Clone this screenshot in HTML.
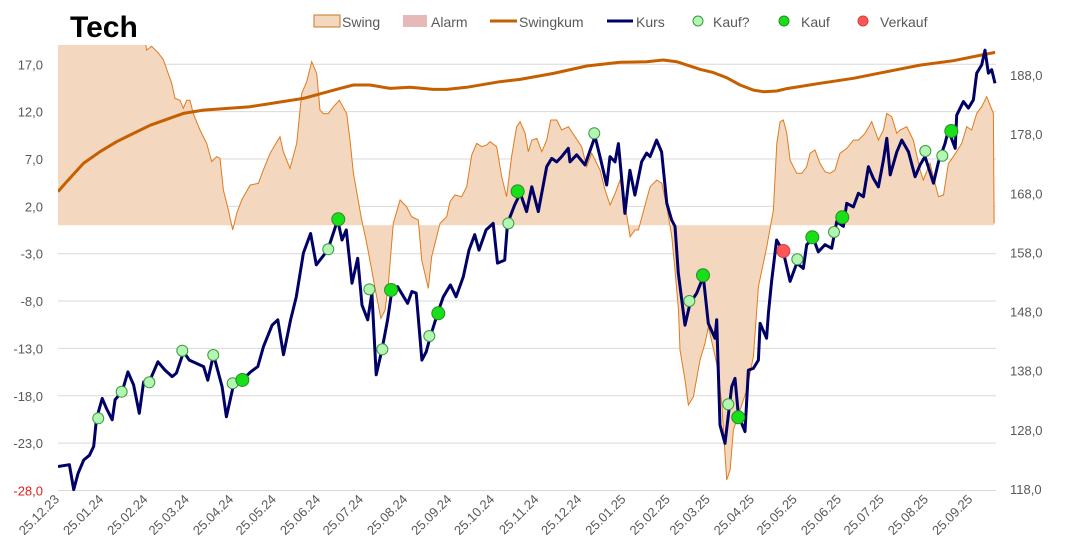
<!DOCTYPE html>
<html><head><meta charset="utf-8"><style>
body{margin:0;background:#fff;}
svg{display:block;font-family:"Liberation Sans",sans-serif;}
</style></head><body>
<svg id="chart" width="1067" height="557">
<text x="70" y="37" font-size="30" font-weight="bold" fill="#000">Tech</text>
<g id="legend" font-size="14" fill="#595959">
 <g><rect x="314" y="15" width="26" height="12" fill="#f3d7be" stroke="#c8782a" stroke-width="1"/><text x="342" y="27">Swing</text></g>
 <g><rect x="403" y="15" width="24" height="12" fill="#e6b8b7"/><text x="431" y="27">Alarm</text></g>
 <g><line x1="490" y1="21" x2="517" y2="21" stroke="#c65f00" stroke-width="3"/><text x="519" y="27">Swingkum</text></g>
 <g><line x1="607" y1="21" x2="633" y2="21" stroke="#000066" stroke-width="3"/><text x="636" y="27">Kurs</text></g>
 <g><circle cx="698" cy="21" r="5" fill="#b3f5b3" stroke="#3a9a3a"/><text x="713" y="27">Kauf?</text></g>
 <g><circle cx="784" cy="21" r="5" fill="#18e018" stroke="#2a8a2a"/><text x="801" y="27">Kauf</text></g>
 <g><circle cx="863" cy="21" r="5" fill="#f55" stroke="#c44"/><text x="880" y="27">Verkauf</text></g>
</g>
<defs><clipPath id="plotclip"><rect x="58" y="45" width="940" height="450"/></clipPath></defs>
<g id="grid"></g>
<g id="plot" clip-path="url(#plotclip)"></g>
<g id="axes"></g>
</svg>
<script>
const leftTicks=[17,12,7,2,-3,-8,-13,-18,-23,-28];
const rightTicks=[188,178,168,158,148,138,128,118];
const xLabels=['2023-12-25','2024-01-25','2024-02-25','2024-03-25','2024-04-25','2024-05-25','2024-06-25','2024-07-25','2024-08-25','2024-09-25','2024-10-25','2024-11-25','2024-12-25','2025-01-25','2025-02-25','2025-03-25','2025-04-25','2025-05-25','2025-06-25','2025-07-25','2025-08-25','2025-09-25'];
const kursDays=[0,8,11,14,18,22,25,27,31,34,38,40,45,49,53,57,60,64,70,75,80,83,88,92,102,105,109,115,118,123,129,135,140,144,150,154,158,163,167,172,177,181,189,196,199,202,206,210,213,217,220,223,227,231,234,238,245,248,251,255,258,261,266,270,275,279,284,288,292,295,300,305,308,313,315,320,324,328.4,332,336.6,342.5,346,349.5,353,357.6,358.8,363.5,369.3,376.3,379.8,384.5,386.8,390.3,392.7,397.3,400.8,404.3,409,412.5,414.9,419.5,423,426.6,430,432.4,434.7,439.4,442.9,447.6,452.2,455.7,460.4,461.6,463.9,467.4,472.1,474.4,476.8,481.4,483.8,487.3,490.8,492,496.6,497.8,500.1,503.6,508.3,513,517.7,522.3,524.7,529.3,532.8,537.5,542.2,545.7,550.4,552.7,557.4,560.9,564.4,567.9,571.4,574.9,578.4,580.8,583.2,587.8,591.3,596,600.6,604.1,607.6,613.5,617,621.6,624,628.7,629.8,634.5,638,641.5,643.8,647.3,649.6,652,654.3,656.6];
const kursValues=[121.8,122.1,117.9,120.6,122.9,123.7,125.2,129.9,133.3,131.6,129.7,133.1,134.5,137.8,135.6,130.8,136.1,136.1,139.5,138.1,137.0,137.6,141.2,139.8,138.7,136.4,140.7,135.3,130.2,135.6,136.4,137.8,138.7,142.1,145.7,146.6,140.7,146.6,150.5,157.9,161.2,155.9,158.4,163.5,160.1,161.8,152.8,157.0,149.1,146.6,151.1,137.3,141.5,146.6,151.6,152.2,149.4,151.4,151.1,139.8,141.2,143.8,147.7,150.5,152.5,150.5,153.9,158.4,161.0,158.4,161.8,162.9,156.2,156.7,162.9,166.0,168.0,164.9,169.1,164.9,172.5,173.9,173.3,174.2,175.6,173.3,174.5,172.8,177.6,174.2,169.4,174.2,173.3,176.4,164.6,171.9,167.7,173.3,174.8,174.2,177.0,175.0,166.3,163.5,162.4,154.5,145.7,149.4,151.1,153.9,146.0,143.5,146.6,128.8,125.7,135.3,136.7,130.5,127.7,138.1,138.4,139.8,146.0,143.5,147.7,153.1,160.1,158.1,153.1,156.2,155.3,159.3,160.4,158.1,159.3,158.7,163.2,162.4,166.3,165.7,168.0,167.4,172.5,170.5,169.1,173.6,177.3,171.1,175.0,177.0,175.0,170.8,172.8,174.2,169.7,173.3,176.4,178.7,175.6,181.2,183.5,182.4,183.8,188.3,189.7,192.2,188.3,188.9,186.6];
const swingDays=[0,59.8,62.1,65.6,70.3,73.8,79.7,82,85.5,87.8,90.2,92.5,94.8,99.5,104.2,107.7,111.2,113.5,115.9,119.4,122.4,125.2,128.7,134.6,140.4,143.9,148.6,152.1,155.6,157.9,162.6,167.3,170.8,174.3,177.8,181.3,183.6,186,189.4,193,197.2,202.3,204.6,207,212.8,216.3,219.8,223.3,226.3,229.2,231.5,235,239.7,244.3,247.8,252.5,254.9,259.5,261.9,265.4,267.7,272.4,274.7,278.2,282.9,286.4,289.9,293.4,296.9,300.4,302.7,307.4,310.9,314.4,317.9,321.4,323.8,327.3,329.6,332,335.5,339,342.5,345.3,349.5,353,357.7,362.3,367,370.5,374,379.9,383.4,386.9,390.4,393.9,397.4,400.9,404.4,406.7,411.4,414.9,419.6,423.1,426.6,430.1,432.4,434.8,435.9,439.4,441.8,445.3,449.9,453.4,455.8,461.6,465.1,468.6,471,473.3,476.8,482.6,487.3,490.8,496.7,501.3,503.7,506,508.3,510.7,513,515.3,517.7,521.2,524.7,527,530.5,534,537.5,541,544.5,548,552.7,557.4,560.9,565.6,570.2,574.9,578.4,580.7,584.2,587.8,590.1,594.8,599.4,604.1,606.4,611.1,613.4,617,620.5,624,627.5,633.3,636.8,640.3,643.8,647.3,650.8,655.5,656];
const swingValues=[21,21,18.5,18.9,18.2,17.5,15.0,13.4,13.2,12.35,13.2,13.2,11.8,10.06,8.65,6.72,7.25,7.07,3.72,1.61,-0.5,1.26,2.67,4.25,4.43,5.84,7.6,8.48,9.36,7.77,6.01,8.65,13.93,15.16,17.28,16.04,12.17,11.8,11.8,12.52,13.2,11.8,9.0,5.49,0.56,-1.91,-4.72,-7.54,-9.83,-8.95,-6.13,0.2,2.67,1.96,0.91,0.56,-3.67,-6.66,-3.31,-1.2,0.2,0.91,2.49,3.2,3.02,4.08,7.42,8.65,8.3,8.48,8.83,8.3,5.13,3.02,7.25,10.41,10.94,9.71,7.77,9.0,9.18,7.77,9.0,11.12,11.12,10.06,10.41,9.36,8.3,6.19,7.6,5.84,3.72,2.14,3.37,4.78,2.14,-1.2,-0.5,-0.5,2.14,4.08,4.78,4.43,1.96,-1.2,-4.72,-8.95,-13.17,-16.34,-18.98,-18.1,-14.23,-12.47,-10.71,-14.58,-18.8,-26.9,-25.84,-21.62,-20.03,-17.4,-13.87,-6.48,-2.26,1.61,8.65,10.94,11.12,9.71,6.89,6.19,5.49,5.49,6.19,7.6,7.95,6.54,5.66,5.49,5.84,7.6,8.12,9.0,9.0,9.71,10.94,9.0,10.06,11.82,11.47,9.71,10.06,10.41,9.0,5.84,4.78,6.54,5.13,3.02,3.2,6.54,7.25,8.65,10.41,10.06,11.82,12.52,13.58,11.82,0.2];
const kumDays=[0,6.1,17.8,29.4,41.1,64.5,87.8,101.9,134.6,171.9,197.6,207,218.6,232.7,246.7,263,272.4,286.4,309.7,323.8,347.2,370.5,393.9,412.6,424.2,433.6,449.9,459.3,468.6,478,487.3,494.3,503.7,510.7,534,557.4,580.7,604.1,627.5,650.8,656.7];
const kumValues=[3.55,4.6,6.54,7.77,8.83,10.56,11.82,12.17,12.52,13.4,14.46,14.81,14.81,14.46,14.57,14.35,14.35,14.57,15.16,15.41,16.04,16.82,17.21,17.28,17.45,17.28,16.47,16.12,15.59,14.81,14.28,14.11,14.18,14.43,14.99,15.52,16.22,16.92,17.38,18.09,18.26];
const kaufQDays=[28.2,44.6,64,87.1,108.8,122.4,189.4,218.2,227.3,260.2,315.6,375.8,442.4,469.7,518.1,543.8,607.8,619.7];
const kaufQValues=[129.95,134.45,136.04,141.38,140.65,135.87,158.53,151.76,141.62,143.87,162.92,178.14,149.79,132.32,156.84,161.45,175.15,174.35];
const kaufDays=[129.2,196.4,233.4,266.5,322.1,452,476.7,528.6,549.6,626];
const kaufValues=[136.43,163.6,151.65,147.71,168.33,154.13,130.12,160.56,163.94,178.53];
const verkaufDays=[508.3];
const verkaufValues=[158.24];

const NS='http://www.w3.org/2000/svg';
const X0=58,PXD=1.427;
const xs=d=>X0+d*PXD;
const yL=v=>225.3-v*9.47;
const yR=v=>75+(188-v)*5.914;
const dayOf=s=>(Date.UTC(+s.slice(0,4),+s.slice(5,7)-1,+s.slice(8,10))-Date.UTC(2023,11,25))/86400000;
function mk(tag,attrs,parent){const e=document.createElementNS(NS,tag);for(const k in attrs)e.setAttribute(k,attrs[k]);parent.appendChild(e);return e;}
const grid=document.getElementById('grid'),plot=document.getElementById('plot'),axes=document.getElementById('axes');

leftTicks.forEach(v=>{
 const g=mk('line',{x1:58,x2:996,y1:yL(v),y2:yL(v),stroke:'#d9d9d9','stroke-width':1},grid);
 
 
 const t=mk('text',{x:43,y:yL(v)+5,'text-anchor':'end','font-size':13,fill:v===-28?'#e02020':'#595959'},axes);
 t.textContent=v.toFixed(1).replace('.',',');
 
 
});
rightTicks.forEach(v=>{
 const t=mk('text',{x:1010,y:yR(v)+5,'font-size':13,fill:'#595959'},axes);
 t.textContent=v.toFixed(1).replace('.',',');
 
 
});
xLabels.forEach(s=>{
 const x=xs(dayOf(s))+2,y=500;
 const p=s.split('-');
 const t=mk('text',{x:x,y:y,'text-anchor':'end','font-size':13,fill:'#595959',transform:`rotate(-45 ${x} ${y})`},axes);
 t.textContent=p[2]+'.'+p[1]+'.'+p[0].slice(2);
 
 
});

let d='M'+xs(swingDays[0])+','+yL(0);
swingDays.forEach((dd,i)=>{d+=' L'+xs(dd).toFixed(1)+','+yL(swingValues[i]).toFixed(1);});
d+=' L'+xs(swingDays[swingDays.length-1]).toFixed(1)+','+yL(0)+' Z';
const sa=mk('path',{d:d,fill:'#f3d7be',stroke:'none'},plot);


const sl=mk('polyline',{points:swingDays.map((dd,i)=>xs(dd).toFixed(1)+','+yL(swingValues[i]).toFixed(1)).join(' '),fill:'none',stroke:'#e07b20','stroke-width':1},plot);



const kl=mk('polyline',{points:kumDays.map((dd,i)=>xs(dd).toFixed(1)+','+yL(kumValues[i]).toFixed(1)).join(' '),fill:'none',stroke:'#c65f00','stroke-width':3,'stroke-linejoin':'round'},plot);



const ku=mk('polyline',{points:kursDays.map((dd,i)=>xs(dd).toFixed(1)+','+yR(kursValues[i]).toFixed(1)).join(' '),fill:'none',stroke:'#000066','stroke-width':3,'stroke-linejoin':'round'},plot);



kaufQDays.forEach((dd,i)=>{
 const c=mk('circle',{cx:xs(dd),cy:yR(kaufQValues[i]),r:5.5,fill:'#b3f5b3',stroke:'#3a9a3a','stroke-width':1},plot);
 
 
});
kaufDays.forEach((dd,i)=>{
 const c=mk('circle',{cx:xs(dd),cy:yR(kaufValues[i]),r:6.5,fill:'#18e018',stroke:'#2a8a2a','stroke-width':1},plot);
 
 
});
verkaufDays.forEach((dd,i)=>{
 const c=mk('circle',{cx:xs(dd),cy:yR(verkaufValues[i]),r:6.5,fill:'#f55',stroke:'#c44','stroke-width':1},plot);
 
 
});
</script>
</body></html>
